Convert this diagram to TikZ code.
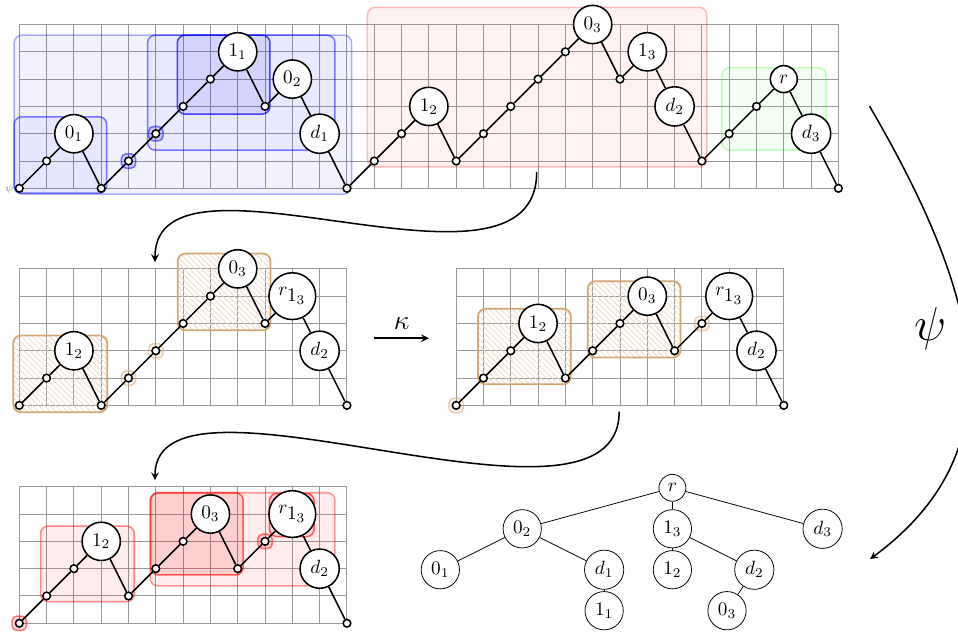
\documentclass[tikz,border=0pt]{standalone}
\usepackage{tikz}
\usetikzlibrary{patterns,positioning}

\definecolor{tanc}{RGB}{212,166,114}

\tikzset{
  dot/.style={circle,draw,thick,fill=white,inner sep=0pt,minimum size=4pt},
  lab/.style={circle,draw,thick,fill=white,inner sep=2.7pt},
  tnode/.style={circle,draw,fill=white,inner sep=2.7pt},
  stepline/.style={thick},
  gridline/.style={gray!80,line width=0.5pt,step=1},
  region/.style n args={3}{rounded corners=4pt,line width=0.8pt,draw=#1,draw opacity=#2,fill=#1,fill opacity=#3},
  hatched/.style={rounded corners=4pt,line width=0.9pt,draw=tanc,pattern=north west lines,pattern color=tanc!40},
  halo/.style={rounded corners=2.5pt,line width=0.8pt,draw=#1,draw opacity=0.5,fill=#1,fill opacity=0.15,inner sep=0pt,minimum size=7.5pt},
  bentarrow/.style={thick,->}
}

\newcommand\kpath{0/dot/{},1/dot/{},2/dot/{},3/lab/1_2,1/dot/{},2/dot/{},3/dot/{},4/lab/0_3,2/dot/{},3/dot/{},4/lab/r_{\textstyle 1_3},2/lab/d_2,0/dot/{}}

\begin{document}
\begin{tikzpicture}[x=0.5cm,y=0.5cm,>=stealth]
  \clip (-0.707,-16.25) rectangle (34.38,6.897);

  % the whole path
  \begin{scope}
    \draw[gridline] (0,0) grid (30,6);
    \draw[region={blue}{0.3}{0.05}] (-0.19,-0.21) rectangle (12.17,5.61);
    \draw[region={blue}{0.5}{0.05}] (-0.19,-0.18) rectangle (3.2,2.62);
    \draw[region={blue}{0.5}{0.04}] (4.7,1.4) rectangle (11.56,5.61);
    \draw[region={blue}{0.7}{0.09}] (5.79,2.72) rectangle (9.18,5.61);
    \draw[region={red}{0.25}{0.05}] (12.75,0.79) rectangle (25.18,6.63);
    \draw[region={green}{0.25}{0.05}] (25.73,1.4) rectangle (29.55,4.42);
    \node[halo=blue] (ha1) at (4,1) {};
    \node[halo=blue] (ha2) at (5,2) {};
    \foreach \y/\s/\l [count=\i from 0] in {0/dot/{},1/dot/{},2/lab/0_1,0/dot/{},1/dot/{},2/dot/{},3/dot/{},4/dot/{},5/lab/1_1,3/dot/{},4/lab/0_2,2/lab/d_1,0/dot/{},1/dot/{},2/dot/{},3/lab/1_2,1/dot/{},2/dot/{},3/dot/{},4/dot/{},5/dot/{},6/lab/0_3,4/dot/{},5/lab/1_3,3/lab/d_2,1/dot/{},2/dot/{},3/dot/{},4/lab/r,2/lab/d_3,0/dot/{}}
      \node[\s] (a\i) at (\i,\y) {$\l$};
    \foreach \i [count=\j] in {0,...,29}
      \draw[stepline] (a\i) -- (a\j);
    \node[gray,font=\tiny] (psi0) at (-0.37,-0.02) {$\psi$};
  \end{scope}

  % before kappa
  \begin{scope}[shift={(0,-7.95)}]
    \draw[gridline] (0,0) grid (12,5);
    \draw[hatched] (-0.22,-0.25) rectangle (3.22,2.56);
    \draw[hatched] (5.8,2.75) rectangle (9.2,5.56);
    \node[halo=tanc] (hb1) at (4,1) {};
    \node[halo=tanc] (hb2) at (5,2) {};
    \foreach \y/\s/\l [count=\i from 0] in {0/dot/{},1/dot/{},2/lab/1_2,0/dot/{},1/dot/{},2/dot/{},3/dot/{},4/dot/{},5/lab/0_3,3/dot/{},4/lab/r_{\textstyle 1_3},2/lab/d_2,0/dot/{}}
      \node[\s] (b\i) at (\i,\y) {$\l$};
    \foreach \i [count=\j] in {0,...,11}
      \draw[stepline] (b\i) -- (b\j);
  \end{scope}

  % after kappa
  \begin{scope}[shift={(16,-7.95)}]
    \draw[gridline] (0,0) grid (12,5);
    \draw[hatched] (0.8,0.77) rectangle (4.2,3.54);
    \draw[hatched] (4.82,1.75) rectangle (8.22,4.55);
    \node[halo=tanc] (hc1) at (0,0) {};
    \node[halo=tanc] (hc2) at (9,3) {};
    \foreach \y/\s/\l [count=\i from 0] in \kpath
      \node[\s] (c\i) at (\i,\y) {$\l$};
    \foreach \i [count=\j] in {0,...,11}
      \draw[stepline] (c\i) -- (c\j);
  \end{scope}

  % red decomposition
  \begin{scope}[shift={(0,-15.93)}]
    \draw[gridline] (0,0) grid (12,5);
    \draw[region={red}{0.45}{0.07}] (0.78,0.79) rectangle (4.21,3.56);
    \draw[region={red}{0.4}{0.07}] (4.79,1.37) rectangle (11.56,4.78);
    \draw[region={red}{0.6}{0.12}] (4.81,1.77) rectangle (8.2,4.78);
    \draw[region={red}{0.6}{0.12}] (9.16,3.17) rectangle (10.8,4.76);
    \node[halo=red] (hd1) at (0,0) {};
    \node[halo=red] (hd2) at (9,3) {};
    \foreach \y/\s/\l [count=\i from 0] in \kpath
      \node[\s] (e\i) at (\i,\y) {$\l$};
    \foreach \i [count=\j] in {0,...,11}
      \draw[stepline] (e\i) -- (e\j);
  \end{scope}

  % kappa
  \coordinate (k1) at (13,-5.49);
  \coordinate (k2) at (15,-5.49);
  \draw[thick,->] (k1) -- node[above=1pt,font=\Large] (kap) {$\kappa$} (k2);

  % bent arrows
  \coordinate (s1) at (18.95,0.6);
  \coordinate (e1) at (4.97,-2.7);
  \draw[bentarrow] (s1) .. controls (18.95,-4.82) and (4.97,2.13) .. (e1);
  \coordinate (s2) at (21.97,-8.18);
  \coordinate (e2) at (4.97,-10.69);
  \draw[bentarrow] (s2) .. controls (21.97,-13.6) and (4.97,-5.85) .. (e2);
  \coordinate (s3) at (31.14,3.01);
  \coordinate (e3) at (31.16,-13.58);
  \draw[bentarrow] (s3) .. controls (35.4,-4.29) and (36.5,-9.62) .. (e3);
  \node[font=\Huge] (psi) at (33.36,-5.12) {$\psi$};

  % tree
  \node[tnode] (tr) at (23.92,-10.97) {$r$};
  \node[tnode] (t02) at (18.42,-12.47) {$0_2$};
  \node[tnode] (t13) at (23.92,-12.47) {$1_3$};
  \node[tnode] (td3) at (29.42,-12.47) {$d_3$};
  \node[tnode] (t01) at (15.42,-13.97) {$0_1$};
  \node[tnode] (td1) at (21.42,-13.97) {$d_1$};
  \node[tnode] (t12) at (23.92,-13.97) {$1_2$};
  \node[tnode] (td2) at (26.92,-13.97) {$d_2$};
  \node[tnode] (t11) at (21.42,-15.47) {$1_1$};
  \node[tnode] (t03) at (25.92,-15.47) {$0_3$};
  \draw (tr) -- (t02);
  \draw (tr) -- (t13);
  \draw (tr) -- (td3);
  \draw (t02) -- (t01);
  \draw (t02) -- (td1);
  \draw (td1) -- (t11);
  \draw (t13) -- (t12);
  \draw (t13) -- (td2);
  \draw (td2) -- (t03);
\end{tikzpicture}
\end{document}
